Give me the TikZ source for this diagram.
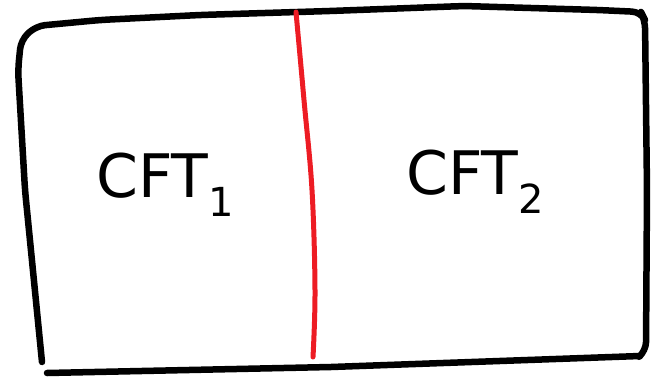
\documentclass[tikz,border=0pt]{standalone}
\usepackage{fontspec}
\setmainfont{DejaVu Sans}

\definecolor{marker}{RGB}{237,28,36}
\newcommand{\idx}[1]{\raisebox{-0.6ex}{\fontsize{40}{40}\selectfont #1}}

\begin{document}
\begin{tikzpicture}[x=1pt, y=-1pt, line cap=round, line join=round]

    \useasboundingbox (0,0) rectangle (662,381);

    % outer box, drawn as one rough stroke plus the bottom line
    \draw [line width=6.5pt, rounded corners=9pt]
        (42,362) -- (25,190) -- (18,70) -- (21,40) -- (36,26) -- (100,20)
        -- (200,15) -- (330,11) -- (464,6) -- (598,10) -- (641,12)
        -- (645,20) -- (647,190) -- (646,351) -- (640,356);
    \draw [line width=6.5pt] (640,356) -- (331,367) -- (47,373);

    % the cut between the two halves
    \draw [line width=5pt, marker] plot [smooth, tension=0.6]
        coordinates {(296,12) (304,100) (312,190) (315,290) (313,357)};

    \node [anchor=base west, inner sep=0pt, font=\fontsize{60}{60}\selectfont] (cft1) at (96,197) {CFT\idx{1}};
    \node [anchor=base west, inner sep=0pt, font=\fontsize{60}{60}\selectfont] (cft2) at (406,194) {CFT\idx{2}};

\end{tikzpicture}
\end{document}
